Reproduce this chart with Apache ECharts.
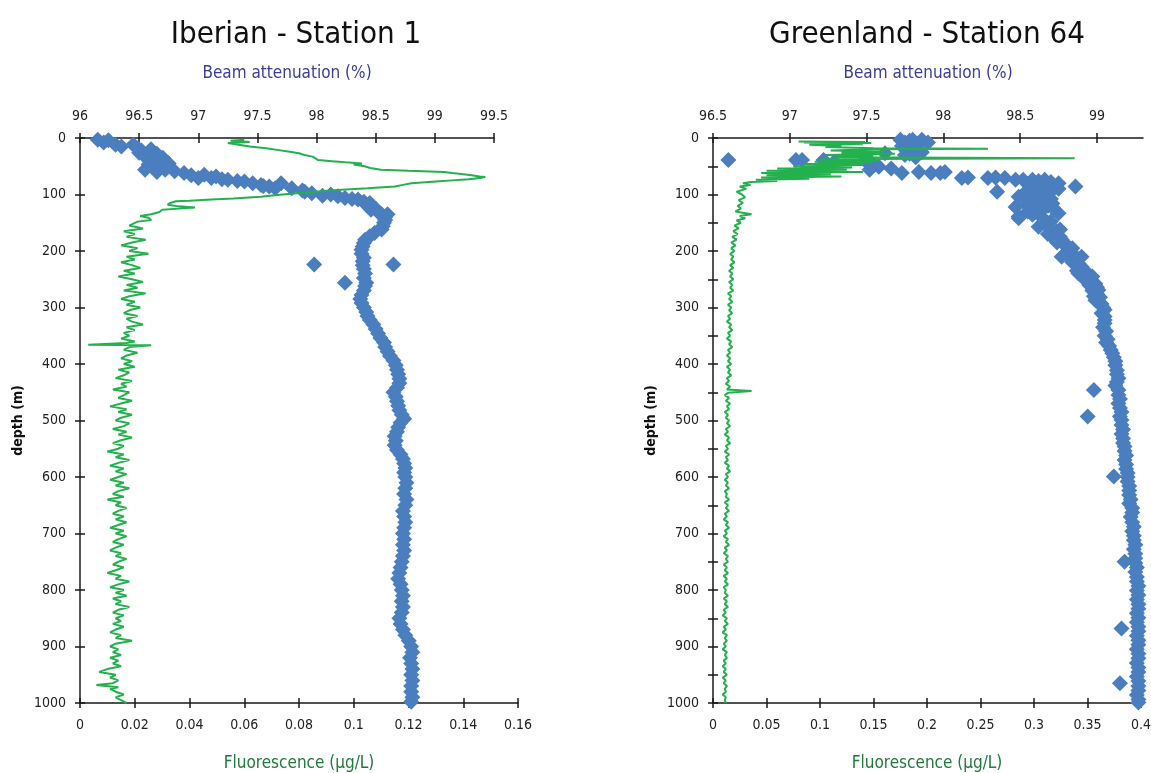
<!DOCTYPE html>
<html><head><meta charset="utf-8">
<script src="https://cdn.jsdelivr.net/npm/echarts@6/dist/echarts.min.js"></script>
<style>html,body{margin:0;padding:0;background:#fff}#c{width:1151px;height:773px}</style>
</head><body><div id="c"></div>
<script>
// ---------- Iberian - Station 1 ----------
const ibBeamDepth = [3,4,8,12,12,15,18,20,22,25,26,28,30,33,35,38,40,42,45,47,50,52,56,56,59,60,62,65,66,68,71,71,73,74,76,77,80,80,83,85,86,89,89,93,95,98,100,102,103,106,108,109,113,115,118,122,125,127,131,135,135,140,145,150,156,162,168,174,180,186,192,198,205,212,218,224,224,225,232,240,248,256,256,262,270,278,285,292,300,308,315,322,330,338,346,354,362,370,378,386,394,402,410,418,426,434,442,450,458,466,474,482,490,497,504,512,520,528,536,544,552,560,568,576,584,592,600,610,620,630,640,650,660,670,680,690,700,710,720,730,740,750,760,770,780,790,800,810,820,830,840,850,860,870,880,890,900,910,920,930,940,950,960,970,980,990,998];
const ibBeam = [96.15,96.24,96.20,96.30,96.45,96.35,96.49,96.60,96.52,96.58,96.50,96.65,96.56,96.55,96.70,96.62,96.60,96.69,96.75,96.58,96.68,96.62,96.55,96.72,96.80,96.65,96.88,97.05,96.94,97.15,97.00,97.11,97.20,97.25,97.33,97.39,97.46,97.70,97.53,97.55,97.60,97.65,97.79,97.88,97.90,97.96,98.12,98.05,98.18,98.24,98.30,98.35,98.40,98.45,98.42,98.45,98.50,98.46,98.52,98.55,98.60,98.58,98.58,98.57,98.56,98.55,98.49,98.45,98.41,98.40,98.39,98.38,98.38,98.40,98.39,97.98,98.65,98.39,98.40,98.41,98.40,98.24,98.42,98.41,98.40,98.38,98.37,98.38,98.40,98.42,98.43,98.45,98.48,98.50,98.52,98.54,98.57,98.58,98.60,98.62,98.65,98.67,98.68,98.69,98.70,98.70,98.68,98.65,98.67,98.68,98.69,98.70,98.72,98.74,98.71,98.69,98.68,98.66,98.67,98.66,98.68,98.71,98.73,98.74,98.75,98.74,98.75,98.76,98.75,98.74,98.76,98.75,98.73,98.74,98.75,98.74,98.73,98.74,98.73,98.74,98.73,98.72,98.71,98.70,98.69,98.71,98.72,98.73,98.72,98.73,98.72,98.70,98.71,98.73,98.75,98.78,98.80,98.81,98.79,98.80,98.81,98.80,98.81,98.80,98.80,98.81,98.80];

const ibFluoDepth = [3,5,7,9,12,15,18,21,24,27,30,33,36,39,41,43,45,47,50,53,56,58,60,62,64,66,68,69,71,73,75,77,80,83,86,89,92,95,98,101,104,107,109,111,112,115,118,121,123,125,127,131,135,138,141,145,148,
150,155,160,165,170,175,180,185,190,195,200,205,210,215,220,225,230,235,240,245,250,255,260,265,270,275,280,285,290,295,300,305,310,315,320,325,330,335,340,345,350,355,360,363,366,367,370,375,380,385,390,395,400,405,410,415,420,425,430,435,440,445,450,455,460,465,470,475,480,485,490,495,500,505,510,515,520,525,530,535,540,545,550,555,560,565,570,575,580,585,590,595,600,605,610,615,620,625,630,635,640,645,650,655,660,665,670,675,680,685,690,695,700,705,710,715,720,725,730,735,740,745,750,755,760,765,770,775,780,785,790,795,800,805,810,815,820,825,830,835,840,845,850,855,860,865,870,875,880,885,890,895,900,905,910,915,920,925,930,935,940,945,950,955,960,965,968,972,975,980,985,990,995,1000];
const ibFluo = [0.060,0.055,0.062,0.054,0.058,0.062,0.068,0.072,0.076,0.080,0.082,0.085,0.086,0.087,0.092,0.097,0.103,0.100,0.104,0.106,0.110,0.120,0.133,0.136,0.140,0.143,0.146,0.148,0.146,0.142,0.136,0.130,0.121,0.118,0.115,0.105,0.094,0.086,0.079,0.072,0.066,0.056,0.048,0.040,0.035,0.033,0.032,0.036,0.042,0.036,0.030,0.029,0.026,0.022,0.025,0.026,0.021,
0.021,0.018,0.023,0.016,0.020,0.017,0.024,0.019,0.015,0.021,0.018,0.025,0.017,0.020,0.015,0.019,0.022,0.016,0.020,0.014,0.019,0.023,0.017,0.021,0.016,0.024,0.018,0.015,0.020,0.017,0.022,0.018,0.016,0.021,0.017,0.019,0.023,0.017,0.020,0.016,0.018,0.015,0.020,0.017,0.003,0.026,0.018,0.016,0.021,0.017,0.015,0.019,0.016,0.020,0.014,0.018,0.016,0.013,0.019,0.015,0.017,0.012,0.018,0.016,0.014,0.019,0.015,0.011,0.017,0.014,0.019,0.015,0.013,0.018,0.016,0.012,0.017,0.014,0.019,0.015,0.012,0.016,0.014,0.010,0.016,0.013,0.018,0.014,0.011,0.016,0.013,0.017,0.014,0.011,0.016,0.013,0.018,0.014,0.012,0.016,0.010,0.015,0.013,0.017,0.014,0.012,0.016,0.013,0.017,0.014,0.011,0.016,0.013,0.017,0.014,0.012,0.016,0.013,0.011,0.015,0.013,0.017,0.014,0.012,0.016,0.013,0.010,0.015,0.013,0.018,0.014,0.011,0.016,0.013,0.017,0.012,0.015,0.013,0.018,0.014,0.012,0.016,0.013,0.015,0.012,0.016,0.013,0.011,0.015,0.013,0.019,0.013,0.011,0.014,0.012,0.015,0.011,0.014,0.012,0.015,0.010,0.007,0.013,0.011,0.014,0.012,0.006,0.014,0.011,0.013,0.016,0.013,0.015,0.017];

// ---------- Greenland - Station 64 ----------
const grBeamDepth = [3,3,3,5,8,8,10,14,15,18,22,22,25,27,28,30,33,34,39,39,39,39,42,45,48,51,54,56,60,62,62,60,62,71,70,71,70,71,74,74,74,76,74,78,80,86,82,85,88,90,95,92,95,96,100,100,104,104,105,108,110,112,115,116,118,120,122,125,126,128,130,133,136,139,140,142,145,148,151,155,157,160,162,165,169,170,175,178,180,185,186,192,195,198,204,205,210,210,216,220,222,228,234,235,240,245,250,252,258,260,264,269,270,276,280,282,287,290,294,300,304,310,316,322,328,335,342,350,356,362,368,375,381,388,395,402,411,418,425,432,438,446,446,455,462,470,478,485,493,493,499,508,516,524,532,540,546,554,562,570,578,586,593,599,600,608,616,624,632,640,647,655,663,671,680,688,696,704,712,720,728,736,744,750,752,760,768,777,785,793,801,809,817,825,833,841,849,857,865,868,873,881,889,897,905,913,921,929,937,945,953,961,965,970,978,986,994,999];
const grBeam = [97.72,97.80,97.86,97.78,97.75,97.90,97.83,97.73,97.82,97.79,97.76,97.84,97.86,97.62,97.78,97.75,97.49,97.82,96.60,97.04,97.08,97.22,97.29,97.51,97.55,97.58,97.66,97.52,97.84,97.73,97.92,98.01,97.98,98.12,98.16,98.29,98.34,98.40,98.47,98.52,98.58,98.62,98.66,98.70,98.75,98.86,98.55,98.60,98.68,98.75,98.35,98.58,98.70,98.64,98.52,98.62,98.49,98.62,98.55,98.70,98.66,98.58,98.60,98.71,98.54,98.68,98.47,98.65,98.72,98.60,98.55,98.75,98.58,98.49,98.64,98.49,98.66,98.70,98.66,98.68,98.62,98.70,98.76,98.74,98.72,98.68,98.76,98.72,98.77,98.74,98.79,98.80,98.84,98.82,98.84,98.80,98.77,98.90,98.86,98.84,98.88,98.90,98.92,98.87,98.88,98.97,98.92,98.96,98.99,98.95,99.00,99.01,98.97,99.00,98.98,99.02,98.99,99.01,99.03,99.04,99.05,99.03,99.05,99.05,99.05,99.04,99.06,99.05,99.07,99.06,99.08,99.09,99.10,99.11,99.12,99.12,99.13,99.13,99.14,99.13,99.12,98.98,99.14,99.14,99.15,99.14,99.15,99.16,98.94,99.15,99.16,99.16,99.17,99.16,99.17,99.17,99.18,99.18,99.19,99.18,99.19,99.19,99.20,99.11,99.20,99.20,99.21,99.21,99.21,99.22,99.21,99.23,99.23,99.22,99.23,99.24,99.23,99.24,99.24,99.25,99.24,99.25,99.25,99.18,99.25,99.26,99.25,99.26,99.26,99.27,99.26,99.27,99.26,99.27,99.27,99.26,99.27,99.26,99.27,99.16,99.27,99.26,99.27,99.27,99.26,99.27,99.27,99.26,99.27,99.27,99.26,99.27,99.15,99.27,99.27,99.26,99.27,99.27];

const grFluoDepth = [6,7,8,9,10,11,12,14,16,18,19,20,22,24,26,28,30,32,34,36,37,38,40,42,44,46,48,50,52,54,56,58,60,62,64,66,68,70,72,74,76,78,
80,83,86,90,95,100,105,110,115,120,125,130,135,138,142,146,150,155,160,165,170,175,180,185,190,195,200,205,210,215,220,225,230,235,240,245,250,255,260,265,270,275,280,285,290,295,300,305,310,315,320,325,330,335,340,345,350,355,360,365,370,375,380,385,390,395,400,405,410,415,420,425,430,435,440,445,448,451,455,460,465,470,475,480,485,490,495,500,505,510,515,520,525,530,535,540,545,550,555,560,565,570,575,580,585,590,595,600,605,610,615,620,625,630,635,640,645,650,655,660,665,670,675,680,685,690,695,700,705,710,715,720,725,730,735,740,745,750,755,760,765,770,775,780,785,790,795,800,805,810,815,820,825,830,835,840,845,850,855,860,865,870,875,880,885,890,895,900,905,910,915,920,925,930,935,940,945,950,955,960,965,970,975,980,985,990,995,1000];
const grFluo = [0.080,0.142,0.085,0.148,0.095,0.140,0.090,0.120,0.105,0.150,0.257,0.150,0.110,0.160,0.120,0.170,0.105,0.150,0.115,0.338,0.140,0.100,0.155,0.095,0.148,0.085,0.140,0.075,0.130,0.060,0.125,0.050,0.140,0.045,0.110,0.050,0.120,0.045,0.090,0.040,0.060,0.035,
0.028,0.035,0.025,0.031,0.022,0.027,0.030,0.024,0.028,0.023,0.026,0.021,0.036,0.025,0.030,0.022,0.026,0.020,0.024,0.019,0.023,0.018,0.022,0.017,0.021,0.017,0.020,0.016,0.019,0.017,0.020,0.016,0.019,0.015,0.018,0.016,0.019,0.015,0.018,0.016,0.019,0.014,0.017,0.015,0.018,0.014,0.017,0.015,0.018,0.014,0.016,0.013,0.017,0.015,0.018,0.014,0.016,0.013,0.017,0.015,0.018,0.014,0.016,0.013,0.016,0.014,0.017,0.013,0.016,0.014,0.017,0.013,0.015,0.012,0.016,0.013,0.036,0.014,0.011,0.015,0.012,0.016,0.013,0.015,0.011,0.014,0.012,0.015,0.013,0.016,0.012,0.014,0.011,0.015,0.013,0.016,0.012,0.014,0.011,0.015,0.012,0.014,0.011,0.015,0.013,0.016,0.012,0.014,0.011,0.014,0.012,0.015,0.011,0.013,0.012,0.015,0.011,0.014,0.012,0.015,0.011,0.013,0.010,0.014,0.012,0.015,0.011,0.013,0.010,0.014,0.012,0.015,0.011,0.013,0.010,0.014,0.012,0.014,0.010,0.013,0.011,0.014,0.010,0.013,0.011,0.014,0.010,0.012,0.011,0.014,0.010,0.013,0.011,0.014,0.010,0.012,0.009,0.013,0.011,0.014,0.010,0.012,0.009,0.013,0.011,0.013,0.010,0.012,0.009,0.013,0.011,0.013,0.010,0.012,0.009,0.012,0.010,0.013,0.009,0.012,0.010,0.013,0.011,0.012,0.009,0.012,0.011,0.012];

// axis tick labels
const grBeamTicks = [96.5,97,97.5,98,98.5,99];

// ---------- styling ----------
const FONT = '"Liberation Sans Narrow","DejaVu Sans Condensed","Open Sans",sans-serif';
const BLUE = '#4a7ebf', GREEN = '#22b14c';
const AX = '#1a1a1a';
const zip = (d, v) => d.map((y, i) => [v[i], y]);

const rects = {
  Lt: {left: 80, top: 138, width: 414, height: 565, outerBoundsMode: 'none', containLabel: false},
  Lb: {left: 80, top: 138, width: 438, height: 565, outerBoundsMode: 'none', containLabel: false},
  Rt: {left: 713, top: 138, width: 430, height: 565, outerBoundsMode: 'none', containLabel: false},
  Rb: {left: 713, top: 138, width: 428, height: 565, outerBoundsMode: 'none', containLabel: false}
};
const grid = [rects.Lt, rects.Lb, rects.Rt, rects.Rb, rects.Lt, rects.Lb, rects.Rt, rects.Rb];

const lbl = {fontFamily: FONT, fontSize: 14, color: '#222', formatter: v => String(v)};
function xAx(gi, pos, min, max, interval, inside, extra) {
  return Object.assign({
    type: 'value', gridIndex: gi, position: pos, min, max, interval,
    axisLine: {show: !inside, onZero: false, lineStyle: {color: AX, width: 1.5}},
    axisTick: {show: true, inside: inside, length: 5, lineStyle: {color: AX, width: 1.5}},
    axisLabel: inside ? {show: false} : Object.assign({margin: 15}, lbl),
    splitLine: {show: false}
  }, extra || {});
}
function yAx(gi, show, inside, minor, extra) {
  return Object.assign({
    type: 'value', gridIndex: gi, inverse: true, min: 0, max: 1000, interval: 100, show: show,
    axisLine: {show: !inside, onZero: false, lineStyle: {color: AX, width: 1.5}},
    axisTick: {show: true, inside: inside, length: 5, lineStyle: {color: AX, width: 1.5}},
    minorTick: {show: minor, splitNumber: 2, length: 5, lineStyle: {color: AX, width: 1.5}},
    axisLabel: inside ? {show: false} : Object.assign({margin: 14}, lbl),
    splitLine: {show: false}, minorSplitLine: {show: false}
  }, extra || {});
}
const beamName = {name: 'Beam attenuation (%)', nameLocation: 'middle', nameGap: 56,
  nameTextStyle: {fontFamily: FONT, fontSize: 17, color: '#3b3d98'}};
const fluoName = {name: 'Fluorescence (\u03bcg/L)', nameLocation: 'middle', nameGap: 52,
  nameTextStyle: {fontFamily: FONT, fontSize: 17, color: '#1f7a3b'}};
const depthName = {name: 'depth (m)', nameLocation: 'middle', nameGap: 55, nameRotate: 90,
  nameTextStyle: {fontFamily: FONT, fontSize: 14, fontWeight: 'bold', color: '#111'}};

const xAxis = [
  xAx(0, 'top', 96, 99.5, 0.5, false, beamName),
  xAx(1, 'bottom', 0, 0.16, 0.02, false, fluoName),
  xAx(2, 'top', 96.5, 99.3, 0.5, false, Object.assign({}, beamName, {
    axisTick: {show: true, inside: false, length: 5, customValues: grBeamTicks, lineStyle: {color: AX, width: 1.5}},
    axisLabel: Object.assign({margin: 15, customValues: grBeamTicks}, lbl)})),
  xAx(3, 'bottom', 0, 0.4, 0.05, false, fluoName),
  xAx(4, 'top', 96, 99.5, 0.5, true),
  xAx(5, 'bottom', 0, 0.16, 0.02, true),
  xAx(6, 'top', 96.5, 99.3, 0.5, true, {
    axisTick: {show: true, inside: true, length: 5, customValues: grBeamTicks, lineStyle: {color: AX, width: 1.5}}}),
  xAx(7, 'bottom', 0, 0.4, 0.05, true)
];
const yAxis = [
  yAx(0, false, false, false),
  yAx(1, true, false, false, depthName),
  yAx(2, false, false, false),
  yAx(3, true, false, true, depthName),
  yAx(4, false, true, false),
  yAx(5, true, true, false),
  yAx(6, false, true, false),
  yAx(7, true, true, true)
];

const scatter = (xi, d, v) => ({type: 'scatter', xAxisIndex: xi, yAxisIndex: xi, data: zip(d, v),
  symbol: 'diamond', symbolSize: 16, itemStyle: {color: BLUE, opacity: 1}, silent: true, z: 2});
const line = (xi, d, v) => ({type: 'line', xAxisIndex: xi, yAxisIndex: xi, data: zip(d, v),
  showSymbol: false, lineStyle: {color: GREEN, width: 2}, silent: true, z: 3, animation: false});

const option = {
  animation: false,
  backgroundColor: '#fff',
  title: [
    {text: 'Iberian - Station 1', left: 291, top: 14, textAlign: 'center',
      textStyle: {fontFamily: FONT, fontSize: 31, fontWeight: 'normal', color: '#111'}},
    {text: 'Greenland - Station 64', left: 922, top: 14, textAlign: 'center',
      textStyle: {fontFamily: FONT, fontSize: 31, fontWeight: 'normal', color: '#111'}}
  ],
  grid, xAxis, yAxis,
  series: [
    scatter(0, ibBeamDepth, ibBeam),
    line(1, ibFluoDepth, ibFluo),
    scatter(2, grBeamDepth, grBeam),
    line(3, grFluoDepth, grFluo)
  ]
};
const chart = echarts.init(document.getElementById('c'), null, {renderer: 'canvas'});
chart.setOption(option);
</script></body></html>
